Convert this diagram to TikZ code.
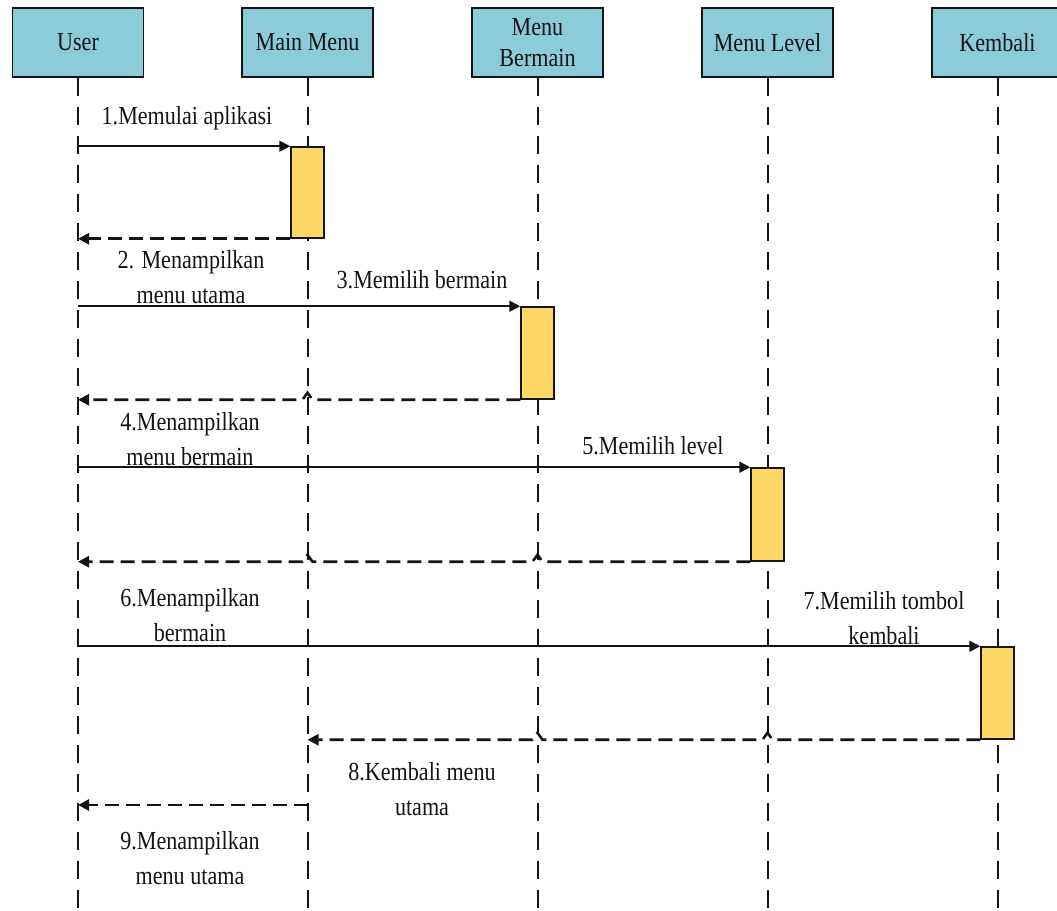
\documentclass[tikz,border=0pt]{standalone}
\usepackage{fontspec}
\setmainfont{Liberation Serif}[FakeStretch=0.85]
\usetikzlibrary{arrows.meta,calc}
\definecolor{hdr}{RGB}{140,204,218}
\definecolor{actc}{RGB}{255,215,100}
\definecolor{ink}{RGB}{20,20,20}
\begin{document}
\begin{tikzpicture}[x=1pt,y=-1pt,
 hdrbox/.style={draw=ink,line width=1.8pt,fill=hdr,minimum width=131pt,minimum height=69pt,inner sep=0pt,align=center,font=\fontsize{26}{31}\selectfont,text=ink},
 actbox/.style={draw=ink,line width=1.5pt,fill=actc,minimum width=33pt,inner sep=0pt},
 life/.style={draw=ink,line width=2pt,dash pattern=on 18pt off 11pt},
 msg/.style={draw=ink,line width=1.6pt,-{Triangle[length=11pt,width=11pt]}},
 ret/.style={draw=ink,line width=2.6pt,dash pattern=on 14pt off 7pt,-{Triangle[length=11pt,width=11pt]}},
 lbl/.style={align=center,inner sep=0pt,font=\fontsize{26}{35}\selectfont,text=ink},
]
\useasboundingbox (0,0) rectangle (1057,910);
% headers
\node[hdrbox] (user) at (78,42.5) {User};
\node[hdrbox] (mm) at (307.5,42.5) {Main Menu};
\node[hdrbox] (mb) at (537.5,42.5) {Menu\\Bermain};
\node[hdrbox] (ml) at (767.5,42.5) {Menu Level};
\node[hdrbox] (kb) at (997.5,42.5) {Kembali};
% lifelines
\foreach \n in {user,mm,mb,ml,kb}{
  \coordinate (\n-end) at (\n |- 0,910);
  \draw[life] (\n.south) -- (\n-end);
}
% activations
\node[actbox,minimum height=91pt] (a1) at (307.5,192.5) {};
\node[actbox,minimum height=92pt] (a2) at (537.5,353) {};
\node[actbox,minimum height=93pt] (a3) at (767.5,514.5) {};
\node[actbox,minimum height=92pt] (a4) at (997.5,693) {};
% messages
\draw[msg] (user |- a1.north) -- (a1.north west);
\draw[ret] (a1.south west) -- (user |- a1.south);
\draw[msg] (user |- a2.north) -- (a2.north west);
\draw[ret] (a2.south west) -- ($(mm |- a2.south)+(5,0)$) -- ++(-5,-7) -- ++(-5,7) -- (user |- a2.south);
\draw[msg] (user |- a3.north) -- (a3.north west);
\draw[ret] (a3.south west) -- ($(mb |- a3.south)+(5,0)$) -- ++(-5,-7) -- ++(-5,7)
   -- ($(mm |- a3.south)+(5,0)$) -- ++(-5,-7) -- ++(-5,7) -- (user |- a3.south);
\draw[msg] (user |- a4.north) -- (a4.north west);
\draw[ret] (a4.south west) -- ($(ml |- a4.south)+(5,0)$) -- ++(-5,-7) -- ++(-5,7)
   -- ($(mb |- a4.south)+(5,0)$) -- ++(-5,-7) -- ++(-5,7) -- (mm |- a4.south);
\coordinate (m9) at (mm |- 0,805);
\draw[ret] (m9) -- (user |- m9);
% labels
\node[lbl] (l1) at (187,118) {1.Memulai aplikasi};
\node[lbl] (l2) at (191,277) {2. Menampilkan\\menu utama};
\node[lbl] (l3) at (422,280) {3.Memilih bermain};
\node[lbl] (l4) at (190,439) {4.Menampilkan\\menu bermain};
\node[lbl] (l5) at (653,446) {5.Memilih level};
\node[lbl] (l6) at (190,615) {6.Menampilkan\\bermain};
\node[lbl] (l7) at (884,618) {7.Memilih tombol\\kembali};
\node[lbl] (l8) at (422,789) {8.Kembali menu\\utama};
\node[lbl] (l9) at (190,858) {9.Menampilkan\\menu utama};
\end{tikzpicture}
\end{document}
